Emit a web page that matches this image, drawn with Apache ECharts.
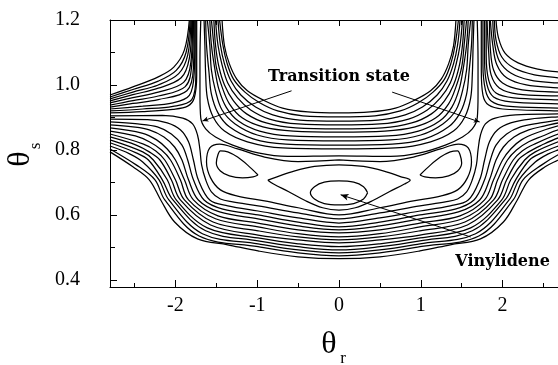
<!DOCTYPE html>
<html><head><meta charset="utf-8">
<script src="https://cdn.jsdelivr.net/npm/echarts@6/dist/echarts.min.js"></script>
<style>html,body{margin:0;padding:0;background:#fff}#c{width:558px;height:365px}</style>
</head><body><div id="c"></div>
<script>
// ---- axes ----
const xRange = [-2.8, 2.8];
const yRange = [0.378, 1.2];
const xTickLabels = [-2, -1, 0, 1, 2];
const xMinorTicks = [-2.5, -1.5, -0.5, 0.5, 1.5, 2.5];
const yTickLabels = [0.4, 0.6, 0.8, 1.0, 1.2];
const yMinorTicks = [0.5, 0.7, 0.9, 1.1];

// ---- contour lines, [theta_r, theta_s] pairs ----
// U-shaped contours of the upper central barrier
const topHillContours = [
 [[-1.43,1.2],[-1.40,1.120],[-1.34,1.065],[-1.25,1.018],[-1.12,0.982],[-0.93,0.954],[-0.69,0.929],[-0.38,0.917],[0,0.914],[0.38,0.917],[0.69,0.929],[0.93,0.954],[1.12,0.982],[1.25,1.018],[1.34,1.065],[1.40,1.120],[1.43,1.2]],
 [[-1.46,1.2],[-1.42,1.123],[-1.37,1.068],[-1.29,1.018],[-1.15,0.978],[-0.97,0.945],[-0.75,0.920],[-0.44,0.905],[0,0.902],[0.44,0.905],[0.75,0.920],[0.97,0.945],[1.15,0.978],[1.29,1.018],[1.37,1.068],[1.42,1.123],[1.46,1.2]],
 [[-1.48,1.2],[-1.45,1.123],[-1.40,1.065],[-1.32,1.012],[-1.20,0.969],[-1.02,0.932],[-0.81,0.908],[-0.48,0.892],[0,0.889],[0.48,0.892],[0.81,0.908],[1.02,0.932],[1.20,0.969],[1.32,1.012],[1.40,1.065],[1.45,1.123],[1.48,1.2]],
 [[-1.51,1.2],[-1.48,1.123],[-1.43,1.062],[-1.36,1.006],[-1.24,0.960],[-1.08,0.923],[-0.85,0.895],[-0.50,0.880],[0,0.877],[0.50,0.880],[0.85,0.895],[1.08,0.923],[1.24,0.960],[1.36,1.006],[1.43,1.062],[1.48,1.123],[1.51,1.2]],
 [[-1.53,1.2],[-1.51,1.123],[-1.47,1.058],[-1.40,1.000],[-1.29,0.951],[-1.13,0.911],[-0.89,0.883],[-0.53,0.868],[0,0.865],[0.53,0.868],[0.89,0.883],[1.13,0.911],[1.29,0.951],[1.40,1.000],[1.47,1.058],[1.51,1.123],[1.53,1.2]],
 [[-1.56,1.2],[-1.53,1.123],[-1.50,1.055],[-1.43,0.994],[-1.34,0.942],[-1.18,0.898],[-0.93,0.871],[-0.56,0.858],[0,0.855],[0.56,0.858],[0.93,0.871],[1.18,0.898],[1.34,0.942],[1.43,0.994],[1.50,1.055],[1.53,1.123],[1.56,1.2]],
 [[-1.58,1.2],[-1.56,1.123],[-1.52,1.052],[-1.47,0.988],[-1.38,0.932],[-1.23,0.889],[-0.97,0.858],[-0.60,0.843],[0,0.840],[0.60,0.843],[0.97,0.858],[1.23,0.889],[1.38,0.932],[1.47,0.988],[1.52,1.052],[1.56,1.123],[1.58,1.2]],
 [[-1.61,1.2],[-1.58,1.123],[-1.56,1.046],[-1.51,0.982],[-1.43,0.923],[-1.27,0.880],[-1.00,0.846],[-0.63,0.831],[0,0.828],[0.63,0.831],[1.00,0.846],[1.27,0.880],[1.43,0.923],[1.51,0.982],[1.56,1.046],[1.58,1.123],[1.61,1.2]],
 [[-1.63,1.2],[-1.62,1.123],[-1.59,1.040],[-1.56,0.972],[-1.48,0.914],[-1.34,0.871],[-1.05,0.834],[-0.65,0.818],[0,0.815],[0.65,0.818],[1.05,0.834],[1.34,0.871],[1.48,0.914],[1.56,0.972],[1.59,1.040],[1.62,1.123],[1.63,1.2]],
 [[-1.65,1.2],[-1.64,1.123],[-1.63,1.031],[-1.61,0.960],[-1.54,0.902],[-1.40,0.858],[-1.12,0.825],[-0.69,0.806],[0,0.803],[0.69,0.806],[1.12,0.825],[1.40,0.858],[1.54,0.902],[1.61,0.960],[1.63,1.031],[1.64,1.123],[1.65,1.2]],
 [[-1.69,1.2],[-1.70,1.077],[-1.70,0.969],[-1.69,0.898],[-1.63,0.865],[-1.51,0.840],[-1.30,0.815],[-0.99,0.791],[-0.63,0.780],[0,0.782],[0.63,0.780],[0.99,0.791],[1.30,0.815],[1.51,0.840],[1.63,0.865],[1.69,0.898],[1.70,0.969],[1.70,1.077],[1.69,1.2]]
];

// contours of the upper-left corner barrier
const upperLeftContours = [
 [[-2.8,0.969],[-2.52,0.994],[-2.21,1.025],[-2.02,1.055],[-1.89,1.108],[-1.83,1.2]],
 [[-2.8,0.963],[-2.52,0.986],[-2.21,1.012],[-1.99,1.045],[-1.87,1.100],[-1.82,1.2]],
 [[-2.8,0.957],[-2.52,0.978],[-2.21,1.000],[-1.96,1.035],[-1.85,1.092],[-1.81,1.2]],
 [[-2.8,0.951],[-2.52,0.970],[-2.21,0.990],[-1.93,1.022],[-1.83,1.082],[-1.80,1.2]],
 [[-2.8,0.945],[-2.52,0.961],[-2.21,0.978],[-1.90,1.008],[-1.81,1.072],[-1.79,1.2]],
 [[-2.8,0.938],[-2.52,0.952],[-2.21,0.966],[-1.88,0.995],[-1.80,1.062],[-1.78,1.2]],
 [[-2.8,0.932],[-2.52,0.943],[-2.21,0.955],[-1.86,0.982],[-1.78,1.052],[-1.77,1.2]],
 [[-2.8,0.926],[-2.4,0.935],[-2.03,0.945],[-1.83,0.968],[-1.77,1.040],[-1.76,1.2]],
 [[-2.8,0.920],[-2.4,0.926],[-2.03,0.934],[-1.80,0.955],[-1.75,1.030],[-1.75,1.2]],
 [[-2.8,0.914],[-2.4,0.918],[-2.03,0.925],[-1.85,0.935],[-1.77,0.960],[-1.74,1.03],[-1.74,1.2]]
];

// contours of the upper-right corner barrier
const upperRightContours = [
 [[1.92,1.2],[1.95,1.145],[2.03,1.098],[2.19,1.068],[2.43,1.049],[2.68,1.040],[2.8,1.037]],
 [[1.90,1.2],[1.92,1.138],[1.99,1.086],[2.14,1.052],[2.39,1.031],[2.68,1.022],[2.8,1.018]],
 [[1.88,1.2],[1.90,1.132],[1.96,1.074],[2.10,1.037],[2.34,1.015],[2.68,1.006],[2.8,1.003]],
 [[1.85,1.2],[1.88,1.123],[1.93,1.062],[2.05,1.022],[2.29,1.000],[2.68,0.991],[2.8,0.988]],
 [[1.84,1.2],[1.85,1.114],[1.89,1.046],[2.00,1.006],[2.24,0.985],[2.68,0.978],[2.8,0.975]],
 [[1.81,1.2],[1.83,1.102],[1.86,1.031],[1.96,0.991],[2.19,0.972],[2.68,0.966],[2.8,0.963]],
 [[1.80,1.2],[1.80,1.089],[1.83,1.015],[1.92,0.975],[2.14,0.960],[2.68,0.954],[2.8,0.951]],
 [[1.78,1.2],[1.78,1.077],[1.81,1.000],[1.89,0.963],[2.10,0.948],[2.68,0.942],[2.8,0.940]],
 [[1.76,1.2],[1.76,1.062],[1.79,0.985],[1.86,0.951],[2.05,0.935],[2.68,0.929],[2.8,0.927]],
 [[1.74,1.2],[1.74,1.046],[1.76,0.969],[1.83,0.938],[2.00,0.926],[2.68,0.920],[2.8,0.918]]
];

// bowl-shaped contours of the lower wall
const bowlContours = [
 [[-2.8,0.905],[-2.16,0.906],[-1.91,0.898],[-1.79,0.880],[-1.73,0.846],[-1.70,0.800],[-1.68,0.754],[-1.63,0.708],[-1.56,0.671],[-1.45,0.649],[-1.30,0.640],[-0.99,0.628],[-0.50,0.606],[0,0.588],[0.50,0.606],[0.99,0.628],[1.30,0.640],[1.45,0.649],[1.56,0.671],[1.63,0.708],[1.68,0.754],[1.70,0.800],[1.73,0.846],[1.79,0.880],[1.91,0.898],[2.16,0.908],[2.68,0.911],[2.8,0.912]],
 [[-2.8,0.895],[-2.34,0.893],[-2.10,0.883],[-1.94,0.862],[-1.84,0.825],[-1.78,0.769],[-1.72,0.708],[-1.58,0.646],[-1.36,0.628],[-0.99,0.612],[-0.50,0.591],[0,0.575],[0.50,0.591],[0.99,0.612],[1.36,0.628],[1.58,0.646],[1.72,0.708],[1.78,0.769],[1.84,0.825],[1.94,0.862],[2.10,0.883],[2.34,0.895],[2.68,0.902],[2.8,0.903]],
 [[-2.8,0.886],[-2.46,0.880],[-2.22,0.871],[-2.05,0.849],[-1.92,0.815],[-1.85,0.769],[-1.78,0.708],[-1.65,0.646],[-1.42,0.618],[-0.99,0.600],[-0.50,0.578],[0,0.563],[0.50,0.578],[0.99,0.600],[1.42,0.618],[1.65,0.646],[1.78,0.708],[1.85,0.769],[1.92,0.815],[2.05,0.849],[2.22,0.871],[2.46,0.883],[2.68,0.892],[2.8,0.894]],
 [[-2.8,0.877],[-2.52,0.871],[-2.32,0.862],[-2.14,0.840],[-2.01,0.809],[-1.92,0.769],[-1.84,0.708],[-1.72,0.646],[-1.46,0.609],[-0.99,0.588],[-0.50,0.566],[0,0.554],[0.50,0.566],[0.99,0.588],[1.46,0.609],[1.72,0.646],[1.84,0.708],[1.92,0.769],[2.01,0.809],[2.14,0.840],[2.32,0.862],[2.52,0.874],[2.68,0.883],[2.8,0.885]],
 [[-2.8,0.868],[-2.41,0.852],[-2.23,0.831],[-2.10,0.803],[-2.00,0.769],[-1.89,0.708],[-1.78,0.646],[-1.48,0.597],[-0.99,0.575],[-0.50,0.554],[0,0.545],[0.50,0.554],[0.99,0.575],[1.48,0.597],[1.78,0.646],[1.89,0.708],[2.00,0.769],[2.10,0.803],[2.23,0.831],[2.41,0.852],[2.68,0.874],[2.8,0.877]],
 [[-2.8,0.858],[-2.49,0.843],[-2.32,0.825],[-2.17,0.800],[-2.06,0.769],[-1.94,0.708],[-1.84,0.646],[-1.51,0.588],[-0.99,0.563],[-0.50,0.542],[0,0.532],[0.50,0.542],[0.99,0.563],[1.51,0.588],[1.84,0.646],[1.94,0.708],[2.06,0.769],[2.17,0.800],[2.32,0.825],[2.49,0.843],[2.68,0.862],[2.8,0.866]],
 [[-2.8,0.849],[-2.39,0.818],[-2.24,0.797],[-2.13,0.769],[-2.00,0.708],[-1.89,0.646],[-1.54,0.578],[-0.99,0.551],[-0.50,0.532],[0,0.523],[0.50,0.532],[0.99,0.551],[1.54,0.578],[1.89,0.646],[2.00,0.708],[2.13,0.769],[2.24,0.797],[2.39,0.818],[2.68,0.849],[2.8,0.854]],
 [[-2.8,0.840],[-2.48,0.815],[-2.32,0.794],[-2.19,0.769],[-2.05,0.708],[-1.94,0.646],[-1.57,0.569],[-0.99,0.538],[-0.50,0.523],[0,0.514],[0.50,0.523],[0.99,0.538],[1.57,0.569],[1.94,0.646],[2.05,0.708],[2.19,0.769],[2.32,0.794],[2.48,0.815],[2.68,0.837],[2.8,0.843]],
 [[-2.8,0.831],[-2.40,0.794],[-2.27,0.769],[-2.10,0.708],[-1.99,0.646],[-1.61,0.560],[-0.99,0.529],[-0.50,0.511],[0,0.502],[0.50,0.511],[0.99,0.529],[1.61,0.560],[1.99,0.646],[2.10,0.708],[2.27,0.769],[2.40,0.794],[2.68,0.825],[2.8,0.833]],
 [[-2.8,0.822],[-2.48,0.791],[-2.33,0.769],[-2.16,0.708],[-2.03,0.646],[-1.63,0.551],[-0.99,0.520],[-0.50,0.502],[0,0.492],[0.50,0.502],[0.99,0.520],[1.63,0.551],[2.03,0.646],[2.16,0.708],[2.33,0.769],[2.48,0.791],[2.68,0.812],[2.8,0.822]],
 [[-2.8,0.812],[-2.56,0.788],[-2.40,0.763],[-2.20,0.708],[-2.08,0.646],[-1.67,0.542],[-0.99,0.511],[-0.50,0.492],[0,0.483],[0.50,0.492],[0.99,0.511],[1.67,0.542],[2.08,0.646],[2.20,0.708],[2.40,0.763],[2.56,0.788],[2.68,0.800],[2.8,0.810]],
 [[-2.8,0.803],[-2.48,0.754],[-2.25,0.708],[-2.13,0.646],[-1.71,0.535],[-0.99,0.502],[-0.50,0.483],[0,0.474],[0.50,0.483],[0.99,0.502],[1.71,0.535],[2.13,0.646],[2.25,0.708],[2.48,0.754],[2.68,0.785],[2.8,0.798]],
 [[-2.8,0.794],[-2.52,0.748],[-2.32,0.708],[-2.18,0.646],[-2.01,0.578],[-1.73,0.526],[-1.36,0.508],[-0.99,0.489],[-0.50,0.471],[0,0.465],[0.50,0.471],[0.99,0.489],[1.36,0.508],[1.73,0.526],[2.01,0.578],[2.18,0.646],[2.32,0.708],[2.52,0.748],[2.68,0.769],[2.8,0.785]]
];

// closed contours around the minima
const vinylideneWell = [[0.35,0.668],[0.30,0.687],[0.18,0.701],[0,0.705],[-0.18,0.701],[-0.30,0.687],[-0.35,0.668],[-0.30,0.649],[-0.18,0.635],[0,0.631],[0.18,0.635],[0.30,0.649],[0.35,0.668]];
const lensContour = [[-0.87,0.707],[-0.75,0.718],[-0.55,0.735],[-0.30,0.749],[0,0.754],[0.30,0.749],[0.55,0.735],[0.75,0.718],[0.87,0.707],[0.80,0.695],[0.62,0.672],[0.42,0.645],[0.20,0.622],[0,0.615],[-0.20,0.622],[-0.42,0.645],[-0.62,0.672],[-0.80,0.695],[-0.87,0.707]];
const outerWellContour = [[0,0.769],[0.50,0.764],[0.91,0.778],[1.24,0.803],[1.46,0.818],[1.58,0.806],[1.62,0.763],[1.57,0.714],[1.45,0.677],[1.24,0.658],[0.91,0.643],[0.50,0.622],[0,0.600],[-0.50,0.622],[-0.91,0.643],[-1.24,0.658],[-1.45,0.677],[-1.57,0.714],[-1.62,0.763],[-1.58,0.806],[-1.46,0.818],[-1.24,0.803],[-0.91,0.778],[-0.50,0.764],[0,0.769]];
const rightWell = [[0.99,0.723],[1.12,0.754],[1.24,0.778],[1.36,0.794],[1.45,0.797],[1.48,0.785],[1.50,0.760],[1.45,0.735],[1.34,0.720],[1.18,0.714],[1.05,0.717],[0.99,0.723]];
const leftWell = [[-0.99,0.723],[-1.12,0.754],[-1.24,0.778],[-1.36,0.794],[-1.45,0.797],[-1.48,0.785],[-1.50,0.760],[-1.45,0.735],[-1.34,0.720],[-1.18,0.714],[-1.05,0.717],[-0.99,0.723]];

// annotations
const annotationTexts = ['Transition state', 'Vinylidene'];
const annotationAnchors = [[0, 1.025], [2.0, 0.455]];
const arrowTSLeft = [[-0.58, 0.982], [-1.67, 0.889]];
const arrowTSRight = [[0.65, 0.978], [1.72, 0.886]];
const arrowVinylidene = [[1.61, 0.532], [0.02, 0.662]];

// ---- chart ----
const chart = echarts.init(document.getElementById('c'), null, {renderer: 'canvas'});
const INK = '#000';
const SERIF = 'Liberation Serif';

const allContours = [].concat(topHillContours, upperLeftContours, upperRightContours, bowlContours,
  [vinylideneWell, lensContour, outerWellContour, rightWell, leftWell]);

const series = allContours.map(pts => ({
  type: 'line', data: pts, xAxisIndex: 0, yAxisIndex: 0,
  symbol: 'none', showSymbol: false, smooth: 0.35, silent: true,
  lineStyle: {color: INK, width: 1.25}, clip: true
}));

series.push({
  type: 'line', data: [], xAxisIndex: 0, yAxisIndex: 0, silent: true,
  markLine: {
    silent: true, animation: false,
    lineStyle: {color: INK, width: 1, type: 'solid'},
    label: {show: false},
    data: [
      [{coord: arrowTSLeft[0], symbol: 'none'}, {coord: arrowTSLeft[1], symbol: 'arrow', symbolSize: [4, 6]}],
      [{coord: arrowTSRight[0], symbol: 'none'}, {coord: arrowTSRight[1], symbol: 'arrow', symbolSize: [4, 6]}],
      [{coord: arrowVinylidene[0], symbol: 'none'}, {coord: arrowVinylidene[1], symbol: 'arrow', symbolSize: [5, 8]}]
    ]
  }
});

function xAxisDef(position, ticks, len, showLine, withLabels) {
  return {
    type: 'value', min: xRange[0], max: xRange[1], position: position,
    axisLine: {show: showLine, onZero: false, lineStyle: {color: INK, width: 1}},
    axisTick: {show: true, inside: true, length: len, customValues: ticks, lineStyle: {color: INK, width: 1}},
    axisLabel: withLabels ? {show: true, customValues: xTickLabels, formatter: v => String(v),
      fontFamily: SERIF, fontSize: 20, color: INK, margin: 9} : {show: false},
    splitLine: {show: false}
  };
}
function yAxisDef(ticks, len, showLine, withLabels) {
  return {
    type: 'value', min: yRange[0], max: yRange[1], position: 'left',
    axisLine: {show: showLine, onZero: false, lineStyle: {color: INK, width: 1}},
    axisTick: {show: true, inside: true, length: len, customValues: ticks, lineStyle: {color: INK, width: 1}},
    axisLabel: withLabels ? {show: true, customValues: yTickLabels, formatter: v => v.toFixed(1),
      fontFamily: SERIF, fontSize: 20, color: INK, margin: 30} : {show: false},
    splitLine: {show: false}
  };
}

chart.setOption({
  animation: false,
  backgroundColor: '#fff',
  grid: {left: 110, top: 20, right: -10, bottom: 78, containLabel: false, outerBoundsMode: 'none'},
  xAxis: [
    xAxisDef('bottom', xTickLabels, 7, true, true),
    xAxisDef('bottom', xMinorTicks, 4, false, false),
    xAxisDef('top', xTickLabels, 6, true, false),
    xAxisDef('top', xMinorTicks, 5, false, false)
  ],
  yAxis: [
    yAxisDef(yTickLabels, 7, true, true),
    yAxisDef(yMinorTicks, 5, false, false)
  ],
  series: series
});

const p0 = chart.convertToPixel({xAxisIndex: 0, yAxisIndex: 0}, annotationAnchors[0]);
const p1 = chart.convertToPixel({xAxisIndex: 0, yAxisIndex: 0}, annotationAnchors[1]);
const boldFont = 'bold 16px "DejaVu Serif"';
function txt(x, y, text, font, rot) {
  return {type: 'text', x: x, y: y, rotation: rot || 0, silent: true,
    style: {text: text, font: font, fill: INK, align: 'center', verticalAlign: 'middle',
            textAlign: 'center', textVerticalAlign: 'middle'}};
}
chart.setOption({
  graphic: [
    txt(p0[0], p0[1], annotationTexts[0], boldFont),
    txt(p1[0], p1[1], annotationTexts[1], boldFont),
    txt(329, 345, 'θ', '32px "Liberation Serif"'),
    txt(343, 359, 'r', '17px "Liberation Serif"'),
    txt(21, 159, 'θ', '32px "Liberation Serif"', Math.PI / 2),
    txt(36, 146, 's', '17px "Liberation Serif"', Math.PI / 2)
  ]
});
</script>
</body></html>
